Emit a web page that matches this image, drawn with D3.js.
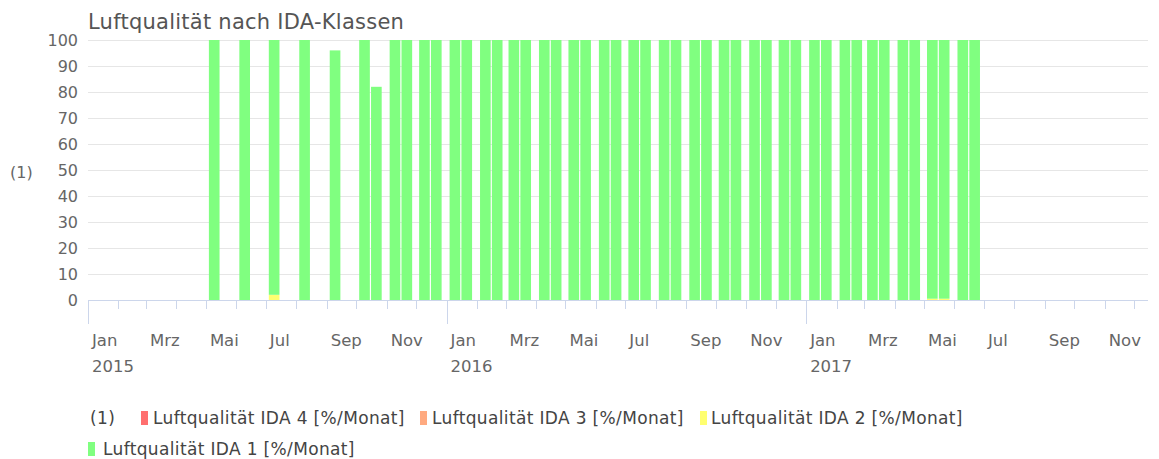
<!DOCTYPE html>
<html>
<head>
<meta charset="utf-8">
<script src="https://cdn.jsdelivr.net/npm/d3@7"></script>
<style>
  html, body { margin: 0; padding: 0; background: #fff; }
  svg { display: block; font-family: "DejaVu Sans", Verdana, sans-serif; }
</style>
</head>
<body>
<svg id="chart" width="1159" height="459"></svg>
<script>
// ---- data ----
const title = "Luftqualität nach IDA-Klassen";
const yAxisLabel = "(1)";
const months = ["2015-05","2015-06","2015-07","2015-08","2015-09","2015-10","2015-11","2015-12",
  "2016-01","2016-02","2016-03","2016-04","2016-05","2016-06","2016-07","2016-08","2016-09","2016-10","2016-11","2016-12",
  "2017-01","2017-02","2017-03","2017-04","2017-05","2017-06"];
// stack 1 (first column in each month)
const ida1A = [100,100,98,100,96,100,100,100, 100,100,100,100,100,100,100,100,100,100,100,100, 100,100,100,100,99.5,100];
const ida2A = [0,0,2,0,0,0,0,0, 0,0,0,0,0,0,0,0,0,0,0,0, 0,0,0,0,0.5,0];
const ida3A = [0,0,0,0,0,0,0,0, 0,0,0,0,0,0,0,0,0,0,0,0, 0,0,0,0,0,0];
const ida4A = [0,0,0,0,0,0,0,0, 0,0,0,0,0,0,0,0,0,0,0,0, 0,0,0,0,0,0];
// stack 2 (second column in each month)
const ida1B = [null,null,null,null,null,82,100,100, 100,100,100,100,100,100,100,100,100,100,100,100, 100,100,100,100,99.5,100];
const ida2B = [null,null,null,null,null,0,0,0, 0,0,0,0,0,0,0,0,0,0,0,0, 0,0,0,0,0.5,0];
const ida3B = [null,null,null,null,null,0,0,0, 0,0,0,0,0,0,0,0,0,0,0,0, 0,0,0,0,0,0];
const ida4B = [null,null,null,null,null,0,0,0, 0,0,0,0,0,0,0,0,0,0,0,0, 0,0,0,0,0,0];
const seriesNames = ["Luftqualität IDA 4 [%/Monat]","Luftqualität IDA 3 [%/Monat]","Luftqualität IDA 2 [%/Monat]","Luftqualität IDA 1 [%/Monat]"];
const seriesColors = ["#ff6f6f","#ffaa80","#ffff70","#80ff80"];
const yTicks = [0,10,20,30,40,50,60,70,80,90,100];
const monthNames = ["Jan","Feb","Mrz","Apr","Mai","Jun","Jul","Aug","Sep","Okt","Nov","Dez"];

// ---- layout ----
const svg = d3.select("#chart");
const mLeft = 88, mRight = 1148, mTop = 40, mBottom = 300;
const parse = d3.timeParse("%Y-%m");
const x = d3.scaleTime()
  .domain([new Date(2015,0,1), new Date(2017,11,15)])
  .range([mLeft, mRight]);
const y = d3.scaleLinear().domain([0,100]).range([mBottom, mTop]);
const inner = d3.scaleBand().domain([0,1]).range([3, 25.5]).paddingInner(0.1);

// grid
svg.append("g").selectAll("line").data(yTicks).join("line")
  .attr("x1", mLeft).attr("x2", mRight)
  .attr("y1", d => y(d) + 0.5).attr("y2", d => y(d) + 0.5)
  .attr("stroke", "#e6e6e6").attr("stroke-width", 1);

// y labels
svg.append("g").selectAll("text").data(yTicks).join("text")
  .attr("x", 78).attr("y", d => y(d)).attr("dy", "0.36em")
  .attr("text-anchor", "end").attr("fill", "#666").attr("font-size", 16)
  .text(d => d);

svg.append("text").attr("x", 10).attr("y", 172).attr("dy", "0.36em")
  .attr("fill", "#666").attr("font-size", 16).text(yAxisLabel);

// title
svg.append("text").attr("x", 88).attr("y", 29)
  .attr("fill", "#555").attr("font-size", 21).attr("letter-spacing", 0.25).text(title);

// bars
const stacks = [
  [ida1A, ida2A, ida3A, ida4A],
  [ida1B, ida2B, ida3B, ida4B]
];
const colorByIdx = [seriesColors[3], seriesColors[2], seriesColors[1], seriesColors[0]];
const barsG = svg.append("g");
stacks.forEach((st, si) => {
  months.forEach((m, mi) => {
    if (st[0][mi] == null) return;
    const order = [1, 0, 2, 3];
    let base = 0;
    order.forEach(k => {
      const v = st[k][mi];
      if (!v) return;
      const x0 = x(parse(m)) + inner(si);
      barsG.append("rect")
        .attr("x", x0).attr("width", inner.bandwidth())
        .attr("y", y(base + v)).attr("height", y(base) - y(base + v))
        .attr("fill", colorByIdx[k]);
      base += v;
    });
  });
});

// x axis line
svg.append("line").attr("x1", mLeft).attr("x2", mRight)
  .attr("y1", mBottom + 0.5).attr("y2", mBottom + 0.5).attr("stroke", "#ccd6eb");

// month ticks
const monthTicks = d3.timeMonth.range(new Date(2015,0,1), new Date(2017,11,15));
svg.append("g").selectAll("line").data(monthTicks).join("line")
  .attr("x1", d => Math.round(x(d)) + 0.5).attr("x2", d => Math.round(x(d)) + 0.5)
  .attr("y1", mBottom).attr("y2", d => d.getMonth() === 0 ? mBottom + 24 : mBottom + 9)
  .attr("stroke", "#ccd6eb");

// month labels (every second month)
const labelled = monthTicks.filter(d => d.getMonth() % 2 === 0);
svg.append("g").selectAll("text").data(labelled).join("text")
  .attr("x", d => x(d) + 4).attr("y", 346)
  .attr("fill", "#666").attr("font-size", 16.5)
  .text(d => monthNames[d.getMonth()]);
svg.append("g").selectAll("text").data(monthTicks.filter(d => d.getMonth() === 0)).join("text")
  .attr("x", d => x(d) + 4).attr("y", 372)
  .attr("fill", "#666").attr("font-size", 16.5)
  .text(d => d.getFullYear());

// legend
const lg = svg.append("g").attr("font-size", 17).attr("letter-spacing", 0.35).attr("fill", "#444");
lg.append("text").attr("x", 90).attr("y", 424).text("(1)");
const legendPos = [
  {sx: 141, tx: 153, y: 424},
  {sx: 420, tx: 432, y: 424},
  {sx: 700, tx: 711, y: 424},
  {sx: 88, tx: 103, y: 455}
];
seriesNames.forEach((n, i) => {
  const p = legendPos[i];
  lg.append("rect").attr("x", p.sx).attr("y", p.y - 13).attr("width", 7).attr("height", 14)
    .attr("fill", seriesColors[i]);
  lg.append("text").attr("x", p.tx).attr("y", p.y).text(n);
});
</script>
</body>
</html>
